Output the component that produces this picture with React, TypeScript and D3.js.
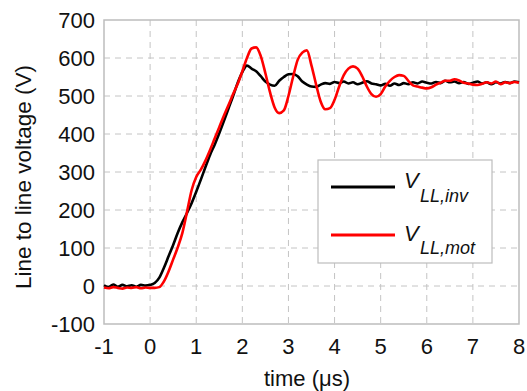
import React from "react";
import * as d3 from "d3";

const timeUs = [
  -1.0, -0.9, -0.8, -0.7, -0.6, -0.5, -0.4, -0.3, -0.2, -0.1,
  0.0, 0.1, 0.2, 0.3, 0.4, 0.5, 0.6, 0.7, 0.8, 0.9,
  1.0, 1.1, 1.2, 1.3, 1.4, 1.5, 1.6, 1.7, 1.8, 1.9,
  2.0, 2.1, 2.2, 2.3, 2.4, 2.5, 2.6, 2.7, 2.8, 2.9,
  3.0, 3.1, 3.2, 3.3, 3.4, 3.5, 3.6, 3.7, 3.8, 3.9,
  4.0, 4.1, 4.2, 4.3, 4.4, 4.5, 4.6, 4.7, 4.8, 4.9,
  5.0, 5.1, 5.2, 5.3, 5.4, 5.5, 5.6, 5.7, 5.8, 5.9,
  6.0, 6.1, 6.2, 6.3, 6.4, 6.5, 6.6, 6.7, 6.8, 6.9,
  7.0, 7.1, 7.2, 7.3, 7.4, 7.5, 7.6, 7.7, 7.8, 7.9,
  8.0,
];

const vInv = [
  2, -3, 4, -2, 3, -1, 2, -2, 3, 1,
  3, 8, 22, 48, 78, 108, 140, 168, 192, 218,
  248, 280, 313, 345, 372, 402, 434, 467, 500, 535,
  563, 580, 572, 565, 552, 538, 530, 527, 540, 550,
  557, 558, 552, 538, 530, 525, 524, 530, 534, 532,
  537, 534, 538, 533, 536, 531, 535, 539, 533, 531,
  528, 532, 527, 533, 529, 534, 531, 536, 533, 538,
  535, 533, 537, 534, 540, 536, 538, 534, 537, 532,
  535, 538, 533, 536, 531, 536, 533, 537, 534, 538,
  536,
];

const vMot = [
  -4, -6, -3, -5, -7, -4, -5, -3, -6, -4,
  -5, -5, -3, 12, 38, 70, 102, 140, 195, 252,
  287, 306, 330, 358, 388, 418, 448, 476, 505, 532,
  565, 600, 625, 628, 605, 560, 510, 470, 455, 462,
  500, 550, 595, 614, 620, 580, 530, 485, 465, 468,
  490, 525, 555, 572, 578, 572, 552, 525, 505, 498,
  505, 525, 540, 550, 555, 553, 540, 528, 525, 522,
  520, 523, 530, 535, 540, 540, 544, 541, 535, 533,
  530, 529, 532, 536, 533, 538, 531, 536, 534, 537,
  535,
];

const xTicks = [-1, 0, 1, 2, 3, 4, 5, 6, 7, 8];
const yTicks = [-100, 0, 100, 200, 300, 400, 500, 600, 700];

const xLabel = "time (\u03bcs)";
const yLabel = "Line to line voltage (V)";
const legendSeries = [
  { main: "V", sub: "LL,inv", color: "#000000" },
  { main: "V", sub: "LL,mot", color: "#ff0000" },
];

const W = 527;
const H = 391;
const plot = { left: 104, right: 519, top: 20, bottom: 324 };
const FONT = "'Liberation Sans', Arial, sans-serif";

export default function App() {
  const x = d3.scaleLinear().domain([-1, 8]).range([plot.left, plot.right]);
  const y = d3.scaleLinear().domain([-100, 700]).range([plot.bottom, plot.top]);

  const line = d3
    .line<number>()
    .x((_, i) => x(timeUs[i]))
    .y((d) => y(d))
    .curve(d3.curveMonotoneX);

  const gridColor = "#c4c4c4";
  const frameColor = "#bdbdbd";

  const lg = { x: 318, y: 160, w: 174, h: 103 };
  const legendRows = [
    { line: 187, main: 188, sub: 202 },
    { line: 235, main: 241, sub: 254 },
  ];

  return (
    <svg
      width={W}
      height={H}
      style={{ position: "absolute", left: 0, top: 0, background: "#fff" }}
      fontFamily={FONT}
    >
      <rect x={0} y={0} width={W} height={H} fill="#fff" />
      {/* grid */}
      {xTicks.slice(1, -1).map((t) => (
        <line
          key={"gx" + t}
          x1={x(t)}
          x2={x(t)}
          y1={plot.top}
          y2={plot.bottom}
          stroke={gridColor}
          strokeWidth={1}
          strokeDasharray="6,5"
        />
      ))}
      {yTicks.slice(1, -1).map((t) => (
        <line
          key={"gy" + t}
          x1={plot.left}
          x2={plot.right}
          y1={y(t)}
          y2={y(t)}
          stroke={gridColor}
          strokeWidth={1}
          strokeDasharray="6,5"
        />
      ))}
      {/* frame */}
      <rect
        x={plot.left}
        y={plot.top}
        width={plot.right - plot.left}
        height={plot.bottom - plot.top}
        fill="none"
        stroke={frameColor}
        strokeWidth={1.5}
      />
      {/* series */}
      <path d={line(vInv) || ""} fill="none" stroke="#000" strokeWidth={2.6} strokeLinejoin="round" />
      <path d={line(vMot) || ""} fill="none" stroke="#ff0000" strokeWidth={2.6} strokeLinejoin="round" />
      {/* tick labels */}
      {xTicks.map((t) => (
        <text key={"xl" + t} x={x(t)} y={354} textAnchor="middle" fontSize={22} fill="#111">
          {t}
        </text>
      ))}
      {yTicks.map((t) => (
        <text
          key={"yl" + t}
          x={95}
          y={y(t)}
          dy="0.36em"
          textAnchor="end"
          fontSize={22}
          fill="#111"
        >
          {t}
        </text>
      ))}
      <text x={307} y={386} textAnchor="middle" fontSize={22} fill="#111">
        {xLabel}
      </text>
      <text
        transform={`translate(31,177) rotate(-90)`}
        textAnchor="middle"
        fontSize={22.5}
        fill="#111"
      >
        {yLabel}
      </text>
      {/* legend */}
      <rect x={lg.x} y={lg.y} width={lg.w} height={lg.h} fill="#fff" stroke={frameColor} strokeWidth={1.2} />
      {legendSeries.map((s, i) => {
        const r = legendRows[i];
        return (
          <g key={s.sub}>
            <line x1={331} x2={395} y1={r.line} y2={r.line} stroke={s.color} strokeWidth={3} />
            <text x={404} y={r.main} fontSize={22} fontStyle="italic" fill="#111">
              {s.main}
            </text>
            <text x={420} y={r.sub} fontSize={18} fontStyle="italic" fill="#111">
              {s.sub}
            </text>
          </g>
        );
      })}
    </svg>
  );
}
